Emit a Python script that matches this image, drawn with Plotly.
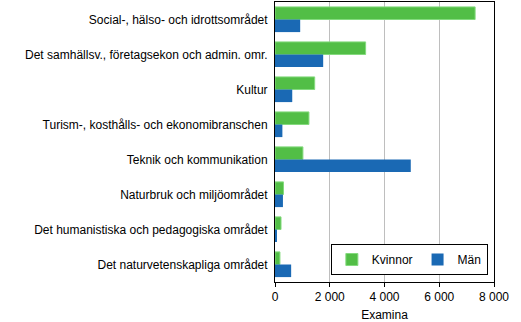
import plotly.graph_objects as go

categories = [
    "Social-, hälso- och idrottsområdet",
    "Det samhällsv., företagsekon och admin. omr.",
    "Kultur",
    "Turism-, kosthålls- och ekonomibranschen",
    "Teknik och kommunikation",
    "Naturbruk och miljöområdet",
    "Det humanistiska och pedagogiska området",
    "Det naturvetenskapliga området",
]
kvinnor = [7310, 3310, 1450, 1240, 1020, 310, 220, 180]
man = [920, 1760, 630, 270, 4960, 290, 40, 590]
tick_vals = [0, 2000, 4000, 6000, 8000]

fig = go.Figure()
fig.add_trace(go.Bar(
    y=categories, x=kvinnor, name="Kvinnor", orientation="h",
    marker=dict(color="#52BE46", line=dict(color="#84DA7E", width=1)),
))
fig.add_trace(go.Bar(
    y=categories, x=man, name="Män", orientation="h",
    marker=dict(color="#1A69B4", line=dict(color="#1A69B4", width=0)),
))

fig.update_layout(
    width=521, height=322,
    margin=dict(l=275, r=27, t=1, b=39),
    paper_bgcolor="white", plot_bgcolor="white",
    barmode="group", bargap=0.28, bargroupgap=0,
    separators=". ",
    font=dict(family="Liberation Sans, Arial, sans-serif", size=12, color="black"),
    showlegend=True,
    legend=dict(
        orientation="h", x=0.972, y=0.025, xanchor="right", yanchor="bottom",
        bordercolor="black", borderwidth=1, bgcolor="white",
        font=dict(size=12), itemwidth=30, tracegroupgap=0,
        traceorder="normal",
    ),
)
fig.update_xaxes(
    range=[0, 8000], tickvals=tick_vals, tickformat=",d",
    showgrid=True, gridcolor="#BEBEBE", gridwidth=1,
    showline=True, linecolor="black", linewidth=1, mirror=True,
    ticks="outside", ticklen=4, tickcolor="black",
    zeroline=False,
    title=dict(text="Examina", standoff=8, font=dict(size=12)),
)
fig.update_yaxes(
    autorange="reversed", type="category",
    showline=True, linecolor="black", linewidth=1, mirror=True,
    ticks="", showgrid=False, ticklabelstandoff=4,
)

fig.write_html("out.html")
